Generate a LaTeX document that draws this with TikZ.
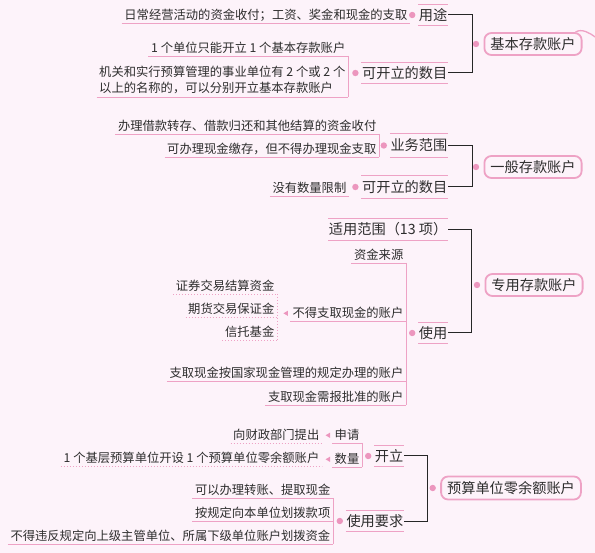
\documentclass[tikz,border=0pt]{standalone}
\usepackage{fontspec}
\setmainfont{Noto Sans CJK SC}
\usetikzlibrary{positioning}

\definecolor{bgpink}{RGB}{253,243,250}
\definecolor{linepink}{RGB}{238,162,197}
\definecolor{dotpink}{RGB}{236,150,190}
\definecolor{txtgray}{RGB}{45,45,45}
\newcommand{\bigfont}{\fontsize{14.2}{16}\selectfont}
\newcommand{\smallfont}{\fontsize{12.3}{16}\selectfont}
% underline, over- and underline, bullet, small triangle
\newcommand{\uln}[2][pline]{\draw[#1] (#2.south west) -- (#2.south east);}
\newcommand{\ouln}[1]{\draw[pline] (#1.north west) -- (#1.north east) (#1.south west) -- (#1.south east);}
\newcommand{\bul}[2][6]{\fill[dotpink] ([xshift=-#1pt]#2.west) circle (3.2pt);}
\newcommand{\trimark}[1]{\fill[dotpink] ([xshift=-6.5pt]#1.west) -- ++(4.5,-2.6) -- ++(0,5.2) -- cycle;}

\begin{document}
\begin{tikzpicture}[x=1pt,y=-1pt,
  root/.style={draw=linepink,line width=1.8pt,rounded corners=7pt,fill=bgpink,
    font=\bigfont,text=txtgray,inner xsep=6pt,inner ysep=0pt,minimum height=22pt},
  branch/.style={font=\bigfont,text=txtgray,anchor=east,inner xsep=0.5pt,
    inner ysep=0pt,minimum height=#1},
  branch/.default=21pt,
  leafbase/.style={font=\smallfont,text=txtgray,anchor=south east,
    inner xsep=2.5pt,inner ysep=2pt},
  leaf/.style={leafbase,text height=9.5pt,text depth=1.5pt},
  pline/.style={draw=linepink,line width=0.9pt},
  dline/.style={draw=linepink,line width=0.9pt,dash pattern=on 1pt off 2pt},
  brk/.style={draw=black!85,line width=1pt}]
  \path[use as bounding box,fill=bgpink] (0,0) rectangle (595,553);

  % 基本存款账户
  \node[root] (r1) at (533,44) {基本存款账户};
  \node[branch] (yt) at (448,15) {用途};
  \node[branch] (kk1) at (448,73) {可开立的数目};
  \node[leaf] (yt1) at (410,23) {日常经营活动的资金收付；工资、奖金和现金的支取};
  \node[leaf] (kk1a) at (348,56) {1 个单位只能开立 1 个基本存款账户};
  \node[leafbase,align=left,inner ysep=3pt] (kk1b) at (348,97)
    {机关和实行预算管理的事业单位有 2 个或 2 个\\以上的名称的，可以分别开立基本存款账户};
  \ouln{yt} \ouln{kk1}
  \uln{yt1} \uln{kk1a} \uln{kk1b}
  \draw[pline] (kk1a.south east) -- (kk1b.south east);
  \bul{yt} \bul{kk1} \bul[7.5]{r1}
  \draw[brk] (yt.east) -- ++(24,0) |- (kk1.east);
  \coordinate (rim) at (595,37);
  \draw[pline,line width=1.3pt] ([xshift=-7pt]r1.north east) .. controls +(6,-4) and +(-5,-4) .. (rim);

  % 一般存款账户
  \node[root] (r2) at (533,167) {一般存款账户};
  \node[branch=23pt] (yw) at (448,145.5) {业务范围};
  \node[branch=22pt] (kk2) at (448,187) {可开立的数目};
  \node[leaf] (yw1) at (379,134) {办理借款转存、借款归还和其他结算的资金收付};
  \node[leaf] (yw2) at (379,157) {可办理现金缴存，但不得办理现金支取};
  \node[leaf] (kk2a) at (349,196) {没有数量限制};
  \ouln{yw} \ouln{kk2}
  \uln{yw1} \uln{yw2} \uln{kk2a}
  \draw[pline] (yw1.south east) -- (yw2.south east);
  \bul{yw} \bul{kk2} \bul[7.5]{r2}
  \draw[brk] (yw.east) -- ++(24,0) |- (kk2.east);

  % 专用存款账户
  \node[root] (r3) at (534,285) {专用存款账户};
  \node[branch] (sy) at (448,229.5) {适用范围（13 项）};
  \node[branch=20pt] (syong) at (448,333) {使用};
  \node[leaf] (zj) at (406,263) {资金来源};
  \node[leaf] (bq) at (406,321) {不得支取现金的账户};
  \node[leaf] (an) at (406,381) {支取现金按国家现金管理的规定办理的账户};
  \node[leaf] (sp) at (406,405) {支取现金需报批准的账户};
  \node[leaf] (zq) at (277,294) {证券交易结算资金};
  \node[leaf] (qh) at (277,317) {期货交易保证金};
  \node[leaf] (xt) at (277,340) {信托基金};
  \ouln{sy} \ouln{syong}
  \uln{zj} \uln{bq} \uln{an} \uln{sp}
  \draw[pline] (zj.south east) -- (sp.south east);
  \uln[dline]{zq} \uln[dline]{qh} \uln[dline]{xt}
  \draw[dline] (zq.south east) -- (xt.south east);
  \trimark{bq}
  \bul{syong} \bul[7.5]{r3}
  \draw[brk] (sy.east) -- ++(23,0) |- (syong.east);

  % 预算单位零余额账户
  \node[root,minimum height=23pt] (r4) at (511,488) {预算单位零余额账户};
  \node[branch=20pt] (kl) at (404,456) {开立};
  \node[branch=20pt] (syq) at (404,521) {使用要求};
  \node[leaf] (sq) at (362,443) {申请};
  \node[leaf] (sl) at (362,467) {数量};
  \node[leaf] (cz) at (322,443) {向财政部门提出};
  \node[leaf] (ys) at (322,466) {1 个基层预算单位开设 1 个预算单位零余额账户};
  \node[leaf] (bl) at (333,498) {可以办理转账、提取现金};
  \node[leaf] (hb) at (333,521) {按规定向本单位划拨款项};
  \node[leaf] (wf) at (333,544) {不得违反规定向上级主管单位、所属下级单位账户划拨资金};
  \ouln{kl} \ouln{syq}
  \uln{sq} \uln{sl} \uln{bl} \uln{hb} \uln{wf}
  \uln[dline]{cz} \uln[dline]{ys}
  \draw[pline] (sq.south east) -- (sl.south east);
  \draw[pline] (bl.south east) -- (wf.south east);
  \trimark{sq} \trimark{sl}
  \bul{kl} \bul{syq} \bul[7.5]{r4}
  \draw[brk] (kl.east) -- ++(23,0) |- (syq.east);
\end{tikzpicture}
\end{document}
